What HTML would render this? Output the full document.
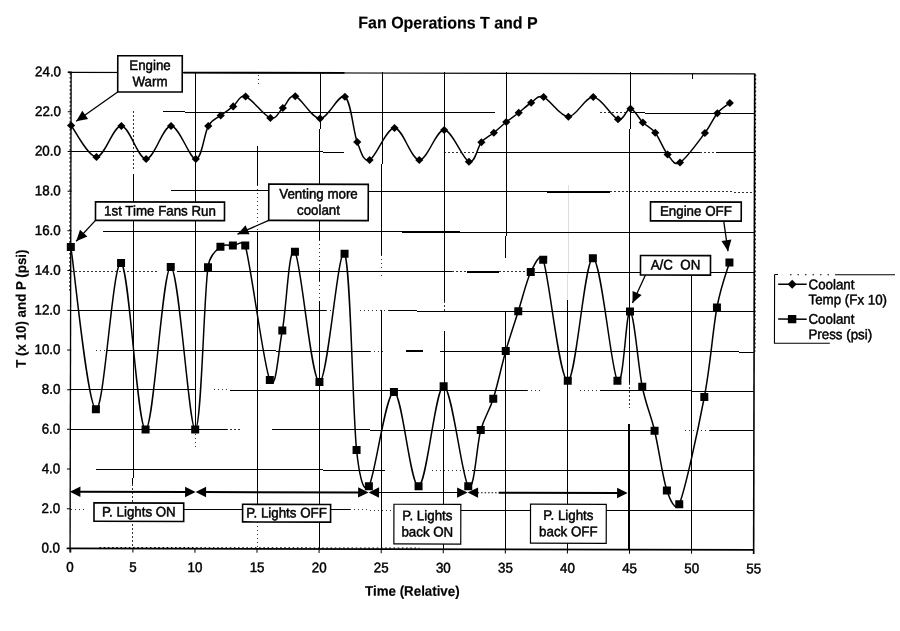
<!DOCTYPE html>
<html lang="en">
<head>
<meta charset="utf-8">
<title>Fan Operations T and P</title>
<style>
html,body{margin:0;padding:0;background:#fff;}
body{width:900px;height:631px;overflow:hidden;}
svg{display:block;}
svg text{font-family:"Liberation Sans",Arial,Helvetica,sans-serif;white-space:pre;fill:#000;stroke:#000;stroke-width:0.45px;stroke-linejoin:round;}
svg text.b{font-weight:bold;stroke-width:0.15px;}
</style>
</head>
<body>
<svg width="900" height="631" viewBox="0 0 900 631">
<rect x="0" y="0" width="900" height="631" fill="#fff"/>
<g transform="rotate(0.125 412.0 311.0)">
<g id="grid" fill="none" shape-rendering="crispEdges">
<line x1="163" y1="112.50" x2="495" y2="112.50" stroke="#000" stroke-width="1"/>
<line x1="600" y1="112.50" x2="626" y2="112.50" stroke="#000" stroke-width="1" stroke-dasharray="1.5 2.5" stroke-opacity="0.8"/>
<line x1="630" y1="112.50" x2="754" y2="112.50" stroke="#000" stroke-width="1"/>
<line x1="71" y1="152.20" x2="344" y2="152.20" stroke="#000" stroke-width="1"/>
<line x1="444" y1="152.20" x2="477" y2="152.20" stroke="#000" stroke-width="1" stroke-dasharray="1.5 2.5" stroke-opacity="0.8"/>
<line x1="477" y1="152.20" x2="700" y2="152.20" stroke="#000" stroke-width="1"/>
<line x1="700" y1="152.20" x2="716" y2="152.20" stroke="#000" stroke-width="1" stroke-dasharray="1.5 2.5" stroke-opacity="0.8"/>
<line x1="716" y1="152.20" x2="754" y2="152.20" stroke="#000" stroke-width="1"/>
<line x1="171" y1="191.30" x2="268" y2="191.30" stroke="#000" stroke-width="1"/>
<line x1="368" y1="191.30" x2="547" y2="191.30" stroke="#000" stroke-width="1"/>
<line x1="547" y1="191.30" x2="610" y2="191.30" stroke="#000" stroke-width="2"/>
<line x1="610" y1="191.30" x2="754" y2="191.30" stroke="#000" stroke-width="1" stroke-dasharray="1.5 2.5" stroke-opacity="0.8"/>
<line x1="103" y1="231.90" x2="754" y2="231.90" stroke="#000" stroke-width="1"/>
<line x1="402" y1="231.90" x2="460" y2="231.90" stroke="#000" stroke-width="2"/>
<line x1="71" y1="271.75" x2="158" y2="271.75" stroke="#000" stroke-width="1" stroke-dasharray="1.5 2.5" stroke-opacity="0.8"/>
<line x1="177" y1="271.75" x2="452" y2="271.75" stroke="#000" stroke-width="1"/>
<line x1="452" y1="271.75" x2="467" y2="271.75" stroke="#000" stroke-width="1" stroke-dasharray="1.5 2.5" stroke-opacity="0.8"/>
<line x1="467" y1="271.75" x2="499" y2="271.75" stroke="#000" stroke-width="2"/>
<line x1="499" y1="271.75" x2="526" y2="271.75" stroke="#000" stroke-width="1" stroke-dasharray="1.5 2.5" stroke-opacity="0.8"/>
<line x1="535" y1="271.75" x2="754" y2="271.75" stroke="#000" stroke-width="1"/>
<line x1="71" y1="311.00" x2="326" y2="311.00" stroke="#000" stroke-width="1"/>
<line x1="326" y1="311.00" x2="334" y2="311.00" stroke="#000" stroke-width="1" stroke-dasharray="1.5 2.5" stroke-opacity="0.8"/>
<line x1="360" y1="311.00" x2="389" y2="311.00" stroke="#000" stroke-width="1" stroke-dasharray="1.5 2.5" stroke-opacity="0.8"/>
<line x1="389" y1="311.00" x2="754" y2="311.00" stroke="#000" stroke-width="1"/>
<line x1="96" y1="351.30" x2="107" y2="351.30" stroke="#000" stroke-width="1" stroke-dasharray="1.5 2.5" stroke-opacity="0.8"/>
<line x1="107" y1="351.30" x2="370" y2="351.30" stroke="#000" stroke-width="1"/>
<line x1="370" y1="351.30" x2="386" y2="351.30" stroke="#000" stroke-width="1" stroke-dasharray="1.5 2.5" stroke-opacity="0.8"/>
<line x1="406" y1="351.30" x2="423" y2="351.30" stroke="#000" stroke-width="2"/>
<line x1="440" y1="351.30" x2="754" y2="351.30" stroke="#000" stroke-width="1"/>
<line x1="71" y1="390.40" x2="196" y2="390.40" stroke="#000" stroke-width="1"/>
<line x1="214" y1="390.40" x2="228" y2="390.40" stroke="#000" stroke-width="1" stroke-dasharray="1.5 2.5" stroke-opacity="0.8"/>
<line x1="230" y1="390.40" x2="527" y2="390.40" stroke="#000" stroke-width="1"/>
<line x1="527" y1="390.40" x2="542" y2="390.40" stroke="#000" stroke-width="1" stroke-dasharray="1.5 2.5" stroke-opacity="0.8"/>
<line x1="580" y1="390.40" x2="600" y2="390.40" stroke="#000" stroke-width="1" stroke-dasharray="1.5 2.5" stroke-opacity="0.8"/>
<line x1="600" y1="390.40" x2="754" y2="390.40" stroke="#000" stroke-width="1"/>
<line x1="71" y1="430.10" x2="227" y2="430.10" stroke="#000" stroke-width="1"/>
<line x1="227" y1="430.10" x2="240" y2="430.10" stroke="#000" stroke-width="1" stroke-dasharray="1.5 2.5" stroke-opacity="0.8"/>
<line x1="226" y1="430.10" x2="240" y2="430.10" stroke="#000" stroke-width="1" stroke-dasharray="1.5 2.5" stroke-opacity="0.8"/>
<line x1="272" y1="430.10" x2="655" y2="430.10" stroke="#000" stroke-width="1"/>
<line x1="685" y1="430.10" x2="710" y2="430.10" stroke="#000" stroke-width="1" stroke-dasharray="1.5 2.5" stroke-opacity="0.8"/>
<line x1="710" y1="430.10" x2="754" y2="430.10" stroke="#000" stroke-width="1"/>
<line x1="96" y1="470.20" x2="385" y2="470.20" stroke="#000" stroke-width="1"/>
<line x1="432" y1="470.20" x2="472" y2="470.20" stroke="#000" stroke-width="1" stroke-dasharray="1.5 2.5" stroke-opacity="0.8"/>
<line x1="472" y1="470.20" x2="754" y2="470.20" stroke="#000" stroke-width="1"/>
<line x1="71" y1="510.10" x2="84" y2="510.10" stroke="#000" stroke-width="1" stroke-dasharray="1.5 2.5" stroke-opacity="0.8"/>
<line x1="184" y1="510.10" x2="242" y2="510.10" stroke="#000" stroke-width="1"/>
<line x1="330" y1="510.10" x2="350" y2="510.10" stroke="#000" stroke-width="1"/>
<line x1="350" y1="510.10" x2="393" y2="510.10" stroke="#000" stroke-width="1" stroke-dasharray="1.5 2.5" stroke-opacity="0.8"/>
<line x1="460" y1="510.10" x2="531" y2="510.10" stroke="#000" stroke-width="1"/>
<line x1="606" y1="510.10" x2="754" y2="510.10" stroke="#000" stroke-width="1"/>
<line x1="133.38" y1="112" x2="133.38" y2="172" stroke="#000" stroke-width="1" stroke-dasharray="1.5 2.5" stroke-opacity="0.8"/>
<line x1="133.38" y1="175" x2="133.38" y2="485" stroke="#000" stroke-width="1"/>
<line x1="133.38" y1="485" x2="133.38" y2="549" stroke="#000" stroke-width="1" stroke-dasharray="1.5 2.5" stroke-opacity="0.8"/>
<line x1="195.46" y1="72" x2="195.46" y2="430" stroke="#000" stroke-width="1"/>
<line x1="195.46" y1="430" x2="195.46" y2="448" stroke="#000" stroke-width="1" stroke-dasharray="1.5 2.5" stroke-opacity="0.8"/>
<line x1="257.54" y1="75" x2="257.54" y2="85" stroke="#000" stroke-width="1" stroke-dasharray="1.5 2.5" stroke-opacity="0.8"/>
<line x1="257.54" y1="146" x2="257.54" y2="185" stroke="#000" stroke-width="1"/>
<line x1="257.54" y1="185" x2="257.54" y2="232" stroke="#000" stroke-width="1" stroke-dasharray="1.5 2.5" stroke-opacity="0.8"/>
<line x1="257.54" y1="232" x2="257.54" y2="504" stroke="#000" stroke-width="1"/>
<line x1="257.54" y1="522" x2="257.54" y2="549" stroke="#000" stroke-width="1" stroke-dasharray="1.5 2.5" stroke-opacity="0.8"/>
<line x1="319.62" y1="72" x2="319.62" y2="184" stroke="#000" stroke-width="1"/>
<line x1="319.62" y1="220" x2="319.62" y2="240" stroke="#000" stroke-width="1"/>
<line x1="319.62" y1="240" x2="319.62" y2="270" stroke="#000" stroke-width="1" stroke-dasharray="1.5 2.5" stroke-opacity="0.8"/>
<line x1="319.62" y1="270" x2="319.62" y2="281" stroke="#000" stroke-width="1"/>
<line x1="319.62" y1="281" x2="319.62" y2="301" stroke="#000" stroke-width="1" stroke-dasharray="1.5 2.5" stroke-opacity="0.8"/>
<line x1="319.62" y1="301" x2="319.62" y2="549" stroke="#000" stroke-width="1"/>
<line x1="381.70" y1="72" x2="381.70" y2="255" stroke="#000" stroke-width="1"/>
<line x1="381.70" y1="255" x2="381.70" y2="276" stroke="#000" stroke-width="1" stroke-dasharray="1.5 2.5" stroke-opacity="0.8"/>
<line x1="381.70" y1="310" x2="381.70" y2="549" stroke="#000" stroke-width="1"/>
<line x1="444.28" y1="72" x2="444.28" y2="301" stroke="#000" stroke-width="1"/>
<line x1="444.28" y1="301" x2="444.28" y2="312" stroke="#000" stroke-width="1" stroke-dasharray="1.5 2.5" stroke-opacity="0.8"/>
<line x1="444.28" y1="331" x2="444.28" y2="504" stroke="#000" stroke-width="1"/>
<line x1="444.28" y1="544" x2="444.28" y2="549" stroke="#000" stroke-width="1"/>
<line x1="505.86" y1="72" x2="505.86" y2="258" stroke="#000" stroke-width="1"/>
<line x1="505.86" y1="311" x2="505.86" y2="549" stroke="#000" stroke-width="1"/>
<line x1="567.94" y1="185" x2="567.94" y2="300" stroke="#000" stroke-width="1" stroke-opacity="0.13"/>
<line x1="567.94" y1="300" x2="567.94" y2="504" stroke="#000" stroke-width="1"/>
<line x1="567.94" y1="543" x2="567.94" y2="549" stroke="#000" stroke-width="1"/>
<line x1="629.62" y1="72" x2="629.62" y2="383" stroke="#000" stroke-width="1"/>
<line x1="629.62" y1="383" x2="629.62" y2="408" stroke="#000" stroke-width="1" stroke-dasharray="1.5 2.5" stroke-opacity="0.8"/>
<line x1="629.62" y1="424" x2="629.62" y2="549" stroke="#000" stroke-width="2"/>
<line x1="691.60" y1="73" x2="691.60" y2="78" stroke="#000" stroke-width="1"/>
<line x1="691.60" y1="275" x2="691.60" y2="549" stroke="#000" stroke-width="1"/>
</g>
<g id="frame" fill="none" stroke="#000">
<line x1="67.30" y1="73.10" x2="754.18" y2="73.10" stroke-width="1.2"/>
<line x1="183" y1="73.10" x2="344" y2="73.10" stroke-width="1.8"/>
<line x1="754.18" y1="72.80" x2="754.18" y2="553.20" stroke-width="1.6"/>
<line x1="70.60" y1="72.80" x2="70.60" y2="553.20" stroke-width="1.35"/>
<line x1="67.30" y1="549.20" x2="754.18" y2="549.20" stroke-width="1.8"/>
<line x1="755.18" y1="73.80" x2="755.18" y2="350.70" stroke-width="1" stroke-dasharray="1.6 2.4"/>
<line x1="69.70" y1="73.80" x2="69.70" y2="291.15" stroke-width="1" stroke-dasharray="1.6 2.4"/>
<line x1="100" y1="548.10" x2="420" y2="548.10" stroke-width="1" stroke-dasharray="1.6 2.6"/>
<line x1="67.30" y1="549.20" x2="71.30" y2="549.20" stroke-width="1"/>
<line x1="67.30" y1="509.50" x2="71.30" y2="509.50" stroke-width="1"/>
<line x1="67.30" y1="469.80" x2="71.30" y2="469.80" stroke-width="1"/>
<line x1="67.30" y1="430.10" x2="71.30" y2="430.10" stroke-width="1"/>
<line x1="67.30" y1="390.40" x2="71.30" y2="390.40" stroke-width="1"/>
<line x1="67.30" y1="350.70" x2="71.30" y2="350.70" stroke-width="1"/>
<line x1="67.30" y1="311.00" x2="71.30" y2="311.00" stroke-width="1"/>
<line x1="67.30" y1="271.30" x2="71.30" y2="271.30" stroke-width="1"/>
<line x1="67.30" y1="231.60" x2="71.30" y2="231.60" stroke-width="1"/>
<line x1="67.30" y1="191.90" x2="71.30" y2="191.90" stroke-width="1"/>
<line x1="67.30" y1="152.20" x2="71.30" y2="152.20" stroke-width="1"/>
<line x1="67.30" y1="112.50" x2="71.30" y2="112.50" stroke-width="1"/>
<line x1="67.30" y1="72.80" x2="71.30" y2="72.80" stroke-width="1"/>
<line x1="71.30" y1="549.20" x2="71.30" y2="553.20" stroke-width="1"/>
<line x1="133.38" y1="549.20" x2="133.38" y2="553.20" stroke-width="1"/>
<line x1="195.46" y1="549.20" x2="195.46" y2="553.20" stroke-width="1"/>
<line x1="257.54" y1="549.20" x2="257.54" y2="553.20" stroke-width="1"/>
<line x1="319.62" y1="549.20" x2="319.62" y2="553.20" stroke-width="1"/>
<line x1="381.70" y1="549.20" x2="381.70" y2="553.20" stroke-width="1"/>
<line x1="443.78" y1="549.20" x2="443.78" y2="553.20" stroke-width="1"/>
<line x1="505.86" y1="549.20" x2="505.86" y2="553.20" stroke-width="1"/>
<line x1="567.94" y1="549.20" x2="567.94" y2="553.20" stroke-width="1"/>
<line x1="630.02" y1="549.20" x2="630.02" y2="553.20" stroke-width="1"/>
<line x1="692.10" y1="549.20" x2="692.10" y2="553.20" stroke-width="1"/>
<line x1="754.18" y1="549.20" x2="754.18" y2="553.20" stroke-width="1"/>
</g>
<g id="series">
<path d="M70.70,126.25 C74.94,131.49 87.75,157.62 96.13,157.69 C104.51,157.75 112.69,126.32 120.96,126.64 C129.24,126.95 137.52,159.60 145.80,159.58 C154.07,159.56 162.35,126.55 170.63,126.53 C178.91,126.51 189.25,159.49 195.46,159.47 C201.67,159.46 203.74,133.70 207.88,126.45 C211.91,119.38 216.15,119.19 220.29,115.92 C224.43,112.64 228.57,109.97 232.71,106.79 C236.85,103.62 238.92,94.94 245.12,96.86 C251.33,98.78 263.75,116.41 269.96,118.31 C276.16,120.21 278.23,111.92 282.37,108.28 C286.51,104.65 288.58,94.77 294.79,96.51 C301.00,98.24 311.34,118.64 319.62,118.70 C327.90,118.77 338.24,92.99 344.45,96.90 C350.66,100.80 352.73,131.59 356.87,142.12 C360.86,152.29 363.08,162.44 369.28,160.09 C375.49,157.75 385.84,128.06 394.12,128.04 C402.39,128.02 410.67,159.67 418.95,159.99 C427.23,160.30 435.50,129.66 443.78,129.93 C452.06,130.20 462.40,159.60 468.61,161.63 C474.82,163.65 476.89,146.94 481.03,142.10 C485.17,137.26 489.31,135.96 493.44,132.57 C497.58,129.19 501.72,125.14 505.86,121.80 C510.00,118.45 514.14,115.74 518.28,112.52 C522.41,109.30 526.55,105.13 530.69,102.49 C534.83,99.86 536.90,94.39 543.11,96.71 C549.32,99.03 559.66,116.43 567.94,116.41 C576.22,116.39 584.49,96.21 592.77,96.61 C601.05,97.00 611.40,116.86 617.60,118.80 C623.81,120.75 625.88,107.74 630.02,108.27 C634.16,108.81 638.30,118.01 642.44,122.00 C646.57,125.99 650.71,126.90 654.85,132.22 C658.99,137.54 663.13,148.99 667.27,153.94 C671.41,158.89 673.48,165.51 679.68,161.92 C685.89,158.32 698.31,140.58 704.52,132.36 C710.72,124.14 712.79,117.59 716.93,112.59 C721.07,107.58 727.28,104.02 729.35,102.31" fill="none" stroke="#000" stroke-width="1.5" stroke-linejoin="round"/>
<path d="M70.70,247.74 C74.94,274.78 87.75,407.29 96.13,409.94 C104.51,412.59 112.69,260.28 120.96,263.64 C129.24,266.99 137.52,429.43 145.80,430.08 C154.07,430.73 162.35,267.54 170.63,267.53 C178.91,267.51 189.25,429.94 195.46,429.97 C201.67,430.00 203.74,298.16 207.88,267.70 C209.49,255.81 216.15,250.80 220.29,247.17 C224.43,243.53 228.57,246.11 232.71,245.89 C236.85,245.67 243.47,239.88 245.12,245.86 C251.33,268.27 263.75,366.16 269.96,380.31 C276.16,394.46 278.23,352.17 282.37,330.78 C286.51,309.40 288.58,243.44 294.79,252.01 C301.00,260.58 311.34,381.89 319.62,382.20 C327.90,382.52 338.24,242.58 344.45,253.90 C350.66,265.22 352.73,411.39 356.87,450.12 C358.90,469.13 363.08,495.97 369.28,486.29 C375.49,476.61 385.84,392.06 394.12,392.04 C402.39,392.02 410.67,487.16 418.95,486.18 C427.23,485.21 435.50,386.20 443.78,386.18 C452.06,386.16 462.40,478.80 468.61,486.08 C474.82,493.35 476.89,444.43 481.03,429.85 C485.17,415.27 489.31,411.75 493.44,398.57 C497.58,385.40 501.72,365.39 505.86,350.80 C510.00,336.20 514.14,324.19 518.28,311.02 C522.41,297.84 526.55,280.33 530.69,271.74 C534.48,263.88 540.28,251.21 543.11,259.46 C549.32,277.58 559.66,380.68 567.94,380.41 C576.22,380.14 584.49,257.87 592.77,257.86 C601.05,257.84 611.40,371.46 617.60,380.30 C623.81,389.15 625.88,309.93 630.02,310.92 C634.16,311.92 638.30,366.36 642.44,386.25 C646.57,406.13 650.71,412.94 654.85,430.22 C658.99,447.50 663.13,477.70 667.27,489.94 C670.23,498.71 676.26,512.26 679.68,503.67 C685.89,488.07 698.31,429.17 704.52,396.36 C710.72,363.56 712.79,329.26 716.93,306.83 C721.07,284.41 727.28,269.31 729.35,261.81" fill="none" stroke="#000" stroke-width="1.5" stroke-linejoin="round"/>
<path d="M66.60,126.25 L70.70,122.15 L74.80,126.25 L70.70,130.35 Z" fill="#000"/>
<path d="M92.03,157.69 L96.13,153.59 L100.23,157.69 L96.13,161.79 Z" fill="#000"/>
<path d="M116.86,126.64 L120.96,122.54 L125.06,126.64 L120.96,130.74 Z" fill="#000"/>
<path d="M141.70,159.58 L145.80,155.48 L149.90,159.58 L145.80,163.68 Z" fill="#000"/>
<path d="M166.53,126.53 L170.63,122.43 L174.73,126.53 L170.63,130.63 Z" fill="#000"/>
<path d="M191.36,159.47 L195.46,155.37 L199.56,159.47 L195.46,163.57 Z" fill="#000"/>
<path d="M203.78,126.45 L207.88,122.35 L211.98,126.45 L207.88,130.55 Z" fill="#000"/>
<path d="M216.19,115.92 L220.29,111.82 L224.39,115.92 L220.29,120.02 Z" fill="#000"/>
<path d="M228.61,106.79 L232.71,102.69 L236.81,106.79 L232.71,110.89 Z" fill="#000"/>
<path d="M241.02,96.86 L245.12,92.76 L249.22,96.86 L245.12,100.96 Z" fill="#000"/>
<path d="M265.86,118.31 L269.96,114.21 L274.06,118.31 L269.96,122.41 Z" fill="#000"/>
<path d="M278.27,108.28 L282.37,104.18 L286.47,108.28 L282.37,112.38 Z" fill="#000"/>
<path d="M290.69,96.51 L294.79,92.41 L298.89,96.51 L294.79,100.61 Z" fill="#000"/>
<path d="M315.52,118.70 L319.62,114.60 L323.72,118.70 L319.62,122.80 Z" fill="#000"/>
<path d="M340.35,96.90 L344.45,92.80 L348.55,96.90 L344.45,101.00 Z" fill="#000"/>
<path d="M352.77,142.12 L356.87,138.02 L360.97,142.12 L356.87,146.22 Z" fill="#000"/>
<path d="M365.18,160.09 L369.28,155.99 L373.38,160.09 L369.28,164.19 Z" fill="#000"/>
<path d="M390.02,128.04 L394.12,123.94 L398.22,128.04 L394.12,132.14 Z" fill="#000"/>
<path d="M414.85,159.99 L418.95,155.89 L423.05,159.99 L418.95,164.09 Z" fill="#000"/>
<path d="M439.68,129.93 L443.78,125.83 L447.88,129.93 L443.78,134.03 Z" fill="#000"/>
<path d="M464.51,161.63 L468.61,157.53 L472.71,161.63 L468.61,165.73 Z" fill="#000"/>
<path d="M476.93,142.10 L481.03,138.00 L485.13,142.10 L481.03,146.20 Z" fill="#000"/>
<path d="M489.34,132.57 L493.44,128.47 L497.54,132.57 L493.44,136.67 Z" fill="#000"/>
<path d="M501.76,121.80 L505.86,117.70 L509.96,121.80 L505.86,125.90 Z" fill="#000"/>
<path d="M514.18,112.52 L518.28,108.42 L522.38,112.52 L518.28,116.62 Z" fill="#000"/>
<path d="M526.59,102.49 L530.69,98.39 L534.79,102.49 L530.69,106.59 Z" fill="#000"/>
<path d="M539.01,96.71 L543.11,92.61 L547.21,96.71 L543.11,100.81 Z" fill="#000"/>
<path d="M563.84,116.41 L567.94,112.31 L572.04,116.41 L567.94,120.51 Z" fill="#000"/>
<path d="M588.67,96.61 L592.77,92.51 L596.87,96.61 L592.77,100.71 Z" fill="#000"/>
<path d="M613.50,118.80 L617.60,114.70 L621.70,118.80 L617.60,122.90 Z" fill="#000"/>
<path d="M625.92,108.27 L630.02,104.17 L634.12,108.27 L630.02,112.37 Z" fill="#000"/>
<path d="M638.34,122.00 L642.44,117.90 L646.54,122.00 L642.44,126.10 Z" fill="#000"/>
<path d="M650.75,132.22 L654.85,128.12 L658.95,132.22 L654.85,136.32 Z" fill="#000"/>
<path d="M663.17,153.94 L667.27,149.84 L671.37,153.94 L667.27,158.04 Z" fill="#000"/>
<path d="M675.58,161.92 L679.68,157.82 L683.78,161.92 L679.68,166.02 Z" fill="#000"/>
<path d="M700.42,132.36 L704.52,128.26 L708.62,132.36 L704.52,136.46 Z" fill="#000"/>
<path d="M712.83,112.59 L716.93,108.49 L721.03,112.59 L716.93,116.69 Z" fill="#000"/>
<path d="M725.25,102.31 L729.35,98.21 L733.45,102.31 L729.35,106.41 Z" fill="#000"/>
<rect x="66.70" y="243.74" width="8.0" height="8.0" fill="#000"/>
<rect x="92.13" y="405.94" width="8.0" height="8.0" fill="#000"/>
<rect x="116.96" y="259.64" width="8.0" height="8.0" fill="#000"/>
<rect x="141.80" y="426.08" width="8.0" height="8.0" fill="#000"/>
<rect x="166.63" y="263.53" width="8.0" height="8.0" fill="#000"/>
<rect x="191.46" y="425.97" width="8.0" height="8.0" fill="#000"/>
<rect x="203.88" y="263.70" width="8.0" height="8.0" fill="#000"/>
<rect x="216.29" y="243.17" width="8.0" height="8.0" fill="#000"/>
<rect x="228.71" y="241.89" width="8.0" height="8.0" fill="#000"/>
<rect x="241.12" y="241.86" width="8.0" height="8.0" fill="#000"/>
<rect x="265.96" y="376.31" width="8.0" height="8.0" fill="#000"/>
<rect x="278.37" y="326.78" width="8.0" height="8.0" fill="#000"/>
<rect x="290.79" y="248.01" width="8.0" height="8.0" fill="#000"/>
<rect x="315.62" y="378.20" width="8.0" height="8.0" fill="#000"/>
<rect x="340.45" y="249.90" width="8.0" height="8.0" fill="#000"/>
<rect x="352.87" y="446.12" width="8.0" height="8.0" fill="#000"/>
<rect x="365.28" y="482.29" width="8.0" height="8.0" fill="#000"/>
<rect x="390.12" y="388.04" width="8.0" height="8.0" fill="#000"/>
<rect x="414.95" y="482.18" width="8.0" height="8.0" fill="#000"/>
<rect x="439.78" y="382.18" width="8.0" height="8.0" fill="#000"/>
<rect x="464.61" y="482.08" width="8.0" height="8.0" fill="#000"/>
<rect x="477.03" y="425.85" width="8.0" height="8.0" fill="#000"/>
<rect x="489.44" y="394.57" width="8.0" height="8.0" fill="#000"/>
<rect x="501.86" y="346.80" width="8.0" height="8.0" fill="#000"/>
<rect x="514.28" y="307.02" width="8.0" height="8.0" fill="#000"/>
<rect x="526.69" y="267.74" width="8.0" height="8.0" fill="#000"/>
<rect x="539.11" y="255.46" width="8.0" height="8.0" fill="#000"/>
<rect x="563.94" y="376.41" width="8.0" height="8.0" fill="#000"/>
<rect x="588.77" y="253.86" width="8.0" height="8.0" fill="#000"/>
<rect x="613.60" y="376.30" width="8.0" height="8.0" fill="#000"/>
<rect x="626.02" y="306.92" width="8.0" height="8.0" fill="#000"/>
<rect x="638.44" y="382.25" width="8.0" height="8.0" fill="#000"/>
<rect x="650.85" y="426.22" width="8.0" height="8.0" fill="#000"/>
<rect x="663.27" y="485.94" width="8.0" height="8.0" fill="#000"/>
<rect x="675.68" y="499.67" width="8.0" height="8.0" fill="#000"/>
<rect x="700.52" y="392.36" width="8.0" height="8.0" fill="#000"/>
<rect x="712.93" y="302.83" width="8.0" height="8.0" fill="#000"/>
<rect x="725.35" y="257.81" width="8.0" height="8.0" fill="#000"/>
</g>
<g id="notes">
<line x1="117.23" y1="92.57" x2="75.79" y2="121.93" stroke="#000" stroke-width="1.3"/><path d="M75.79,121.93 L81.87,111.49 L87.65,119.65 Z" fill="#000"/><rect x="117.23" y="56.32" width="64.50" height="36.25" fill="#fff" stroke="#000" stroke-width="1.6"/><text transform="translate(149.48,70.60) scale(1,1.05)" text-anchor="middle" font-size="13.33">Engine</text><text transform="translate(149.48,86.90) scale(1,1.05)" text-anchor="middle" font-size="13.33">Warm</text>
<line x1="95.28" y1="221.05" x2="76.05" y2="241.93" stroke="#000" stroke-width="1.3"/><path d="M76.05,241.93 L79.82,230.45 L87.18,237.23 Z" fill="#000"/><rect x="95.28" y="202.55" width="129.00" height="18.50" fill="#fff" stroke="#000" stroke-width="1.6"/><text transform="translate(159.78,216.10) scale(1,1.05)" text-anchor="middle" font-size="13.33">1st Time Fans Run</text>
<line x1="268.51" y1="220.70" x2="237.33" y2="234.58" stroke="#000" stroke-width="1.3"/><path d="M237.33,234.58 L245.35,225.54 L249.42,234.68 Z" fill="#000"/><rect x="268.51" y="184.45" width="99.50" height="36.25" fill="#fff" stroke="#000" stroke-width="1.6"/><text transform="translate(318.26,198.73) scale(1,1.05)" text-anchor="middle" font-size="13.33">Venting more</text><text transform="translate(318.26,215.03) scale(1,1.05)" text-anchor="middle" font-size="13.33">coolant</text>
<line x1="723.53" y1="220.38" x2="727.87" y2="250.51" stroke="#000" stroke-width="1.3"/><path d="M727.87,250.51 L721.35,240.34 L731.25,238.91 Z" fill="#000"/><rect x="650.28" y="201.38" width="90.75" height="19.00" fill="#fff" stroke="#000" stroke-width="1.6"/><text transform="translate(695.66,215.18) scale(1,1.05)" text-anchor="middle" font-size="13.33">Engine OFF</text>
<line x1="645.40" y1="274.43" x2="632.48" y2="302.52" stroke="#000" stroke-width="1.3"/><path d="M632.48,302.52 L632.53,290.44 L641.62,294.61 Z" fill="#000"/><rect x="640.40" y="254.93" width="70.00" height="19.50" fill="#fff" stroke="#000" stroke-width="1.6"/><text transform="translate(675.40,268.98) scale(1,1.05)" text-anchor="middle" font-size="13.33">A/C  ON</text>
<rect x="94.44" y="503.60" width="89.70" height="18.40" fill="#fff" stroke="#000" stroke-width="1.6"/><text transform="translate(139.29,517.10) scale(1,1.05)" text-anchor="middle" font-size="13.33">P. Lights ON</text>
<rect x="243.04" y="504.67" width="88.00" height="17.60" fill="#fff" stroke="#000" stroke-width="1.6"/><text transform="translate(287.04,517.77) scale(1,1.05)" text-anchor="middle" font-size="13.33">P. Lights OFF</text>
<rect x="394.36" y="504.27" width="66.90" height="39.70" fill="#fff" stroke="#000" stroke-width="1.2"/><text transform="translate(427.81,520.27) scale(1,1.05)" text-anchor="middle" font-size="13.33">P. Lights</text><text transform="translate(427.81,536.57) scale(1,1.05)" text-anchor="middle" font-size="13.33">back ON</text>
<rect x="530.96" y="503.91" width="75.75" height="39.00" fill="#fff" stroke="#000" stroke-width="1.2"/><text transform="translate(568.84,519.56) scale(1,1.05)" text-anchor="middle" font-size="13.33">P. Lights</text><text transform="translate(568.84,535.86) scale(1,1.05)" text-anchor="middle" font-size="13.33">back OFF</text>
</g>
<g id="spans">
<line x1="78.30" y1="492.5" x2="188.00" y2="492.5" stroke="#000" stroke-width="2.0"/><path d="M70.30,492.50 L80.80,487.30 L80.80,497.70 Z" fill="#000"/><path d="M196.00,492.50 L185.50,497.70 L185.50,487.30 Z" fill="#000"/>
<line x1="204.00" y1="492.5" x2="361.00" y2="492.5" stroke="#000" stroke-width="2.0"/><path d="M196.00,492.50 L206.50,487.30 L206.50,497.70 Z" fill="#000"/><path d="M369.00,492.50 L358.50,497.70 L358.50,487.30 Z" fill="#000"/>
<line x1="377.00" y1="492.5" x2="460.00" y2="492.5" stroke="#000" stroke-width="1.0"/><path d="M369.00,492.50 L379.50,487.30 L379.50,497.70 Z" fill="#000"/><path d="M468.00,492.50 L457.50,497.70 L457.50,487.30 Z" fill="#000"/>
<line x1="499.00" y1="492.5" x2="620.00" y2="492.5" stroke="#000" stroke-width="2.0"/><path d="M468.00,492.50 L478.50,487.30 L478.50,497.70 Z" fill="#000"/><path d="M628.00,492.50 L617.50,497.70 L617.50,487.30 Z" fill="#000"/>
<line x1="478" y1="492.5" x2="499" y2="492.5" stroke="#000" stroke-width="1" stroke-dasharray="1.5 2"/>
</g>
<g id="labels">
<text transform="translate(447.40,28.40) scale(1,1.05)" text-anchor="middle" font-size="16" class="b">Fan Operations T and P</text>
<text transform="translate(60.50,553.40) scale(1,1.05)" text-anchor="end" font-size="13.33">0.0</text>
<text transform="translate(60.50,513.70) scale(1,1.05)" text-anchor="end" font-size="13.33">2.0</text>
<text transform="translate(60.50,474.00) scale(1,1.05)" text-anchor="end" font-size="13.33">4.0</text>
<text transform="translate(60.50,434.30) scale(1,1.05)" text-anchor="end" font-size="13.33">6.0</text>
<text transform="translate(60.50,394.60) scale(1,1.05)" text-anchor="end" font-size="13.33">8.0</text>
<text transform="translate(60.50,354.90) scale(1,1.05)" text-anchor="end" font-size="13.33">10.0</text>
<text transform="translate(60.50,315.20) scale(1,1.05)" text-anchor="end" font-size="13.33">12.0</text>
<text transform="translate(60.50,275.50) scale(1,1.05)" text-anchor="end" font-size="13.33">14.0</text>
<text transform="translate(60.50,235.80) scale(1,1.05)" text-anchor="end" font-size="13.33">16.0</text>
<text transform="translate(60.50,196.10) scale(1,1.05)" text-anchor="end" font-size="13.33">18.0</text>
<text transform="translate(60.50,156.40) scale(1,1.05)" text-anchor="end" font-size="13.33">20.0</text>
<text transform="translate(60.50,116.70) scale(1,1.05)" text-anchor="end" font-size="13.33">22.0</text>
<text transform="translate(60.50,77.00) scale(1,1.05)" text-anchor="end" font-size="13.33">24.0</text>
<text transform="translate(70.50,572.40) scale(1,1.05)" text-anchor="middle" font-size="13.33">0</text>
<text transform="translate(133.48,572.40) scale(1,1.05)" text-anchor="middle" font-size="13.33">5</text>
<text transform="translate(195.56,572.40) scale(1,1.05)" text-anchor="middle" font-size="13.33">10</text>
<text transform="translate(257.64,572.40) scale(1,1.05)" text-anchor="middle" font-size="13.33">15</text>
<text transform="translate(319.72,572.40) scale(1,1.05)" text-anchor="middle" font-size="13.33">20</text>
<text transform="translate(381.80,572.40) scale(1,1.05)" text-anchor="middle" font-size="13.33">25</text>
<text transform="translate(443.88,572.40) scale(1,1.05)" text-anchor="middle" font-size="13.33">30</text>
<text transform="translate(505.96,572.40) scale(1,1.05)" text-anchor="middle" font-size="13.33">35</text>
<text transform="translate(568.04,572.40) scale(1,1.05)" text-anchor="middle" font-size="13.33">40</text>
<text transform="translate(630.12,572.40) scale(1,1.05)" text-anchor="middle" font-size="13.33">45</text>
<text transform="translate(692.20,572.40) scale(1,1.05)" text-anchor="middle" font-size="13.33">50</text>
<text transform="translate(754.28,572.40) scale(1,1.05)" text-anchor="middle" font-size="13.33">55</text>
<text transform="translate(413.00,595.80) scale(1,1.05)" text-anchor="middle" font-size="13.33" class="b">Time (Relative)</text>
<text transform="translate(25.80,309.50) rotate(-90) scale(1,1.05)" text-anchor="middle" font-size="13.33" class="b">T (x 10) and P (psi)</text>
</g>
<g id="legend" transform="translate(-0.08,-0.79)">
<path d="M774.6,274.6 L774.6,343.2 L830,343.2" fill="none" stroke="#000" stroke-width="1.1"/>
<line x1="774.6" y1="274.6" x2="778" y2="274.6" stroke="#000" stroke-width="1"/>
<line x1="790" y1="274.6" x2="835" y2="274.6" stroke="#000" stroke-width="1" stroke-dasharray="1.5 6"/>
<line x1="835" y1="274.6" x2="895" y2="274.6" stroke="#000" stroke-width="1"/>
<line x1="778.2" y1="284.3" x2="806.8" y2="284.3" stroke="#000" stroke-width="1.5"/>
<path d="M787.7,284.3 L792.2,279.8 L796.7,284.3 L792.2,288.8 Z" fill="#000"/>
<line x1="778.2" y1="319.1" x2="806.8" y2="319.1" stroke="#000" stroke-width="1.5"/>
<rect x="788.0" y="314.9" width="8.4" height="8.4" fill="#000"/>
<text transform="translate(808.60,289.10) scale(1,1.05)" font-size="13.33">Coolant</text>
<text transform="translate(808.60,304.20) scale(1,1.05)" font-size="13.33">Temp (Fx 10)</text>
<text transform="translate(808.60,323.70) scale(1,1.05)" font-size="13.33">Coolant</text>
<text transform="translate(808.60,339.00) scale(1,1.05)" font-size="13.33">Press (psi)</text>
</g>
</g>
</svg>
</body>
</html>
